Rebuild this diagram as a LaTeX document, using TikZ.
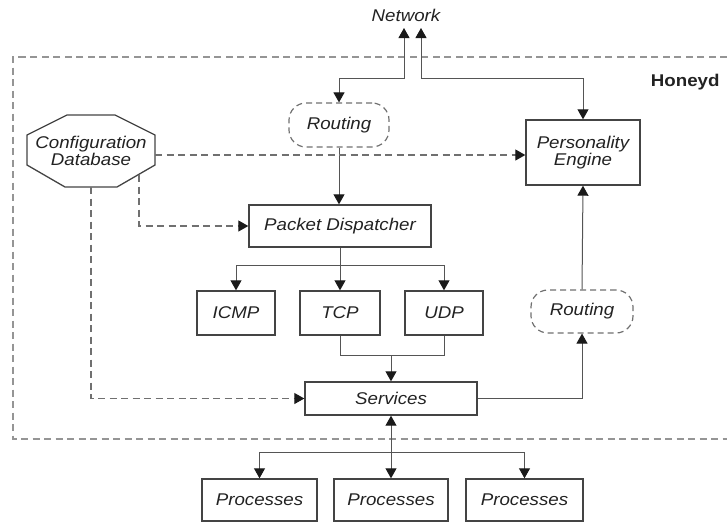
\documentclass[tikz,border=0pt]{standalone}
\usepackage{fontspec}
\setmainfont{Liberation Sans}[FakeStretch=1.1]
\usetikzlibrary{arrows.meta,calc}
\definecolor{boxc}{HTML}{444444}
\definecolor{linec}{HTML}{555555}
\definecolor{dashc}{HTML}{707070}
\definecolor{framec}{HTML}{959595}
\definecolor{txt}{HTML}{222222}
\definecolor{tipc}{HTML}{1A1A1A}
\begin{document}
\begin{tikzpicture}[x=1pt,y=-1pt,
  font=\fontsize{17}{19}\selectfont\itshape,
  text=txt,
  tp/.tip={Triangle[width=11pt,length=10pt,color=tipc]},
  tip/.style={-tp},
  box/.style={draw=boxc, line width=1.4pt, inner sep=0pt, align=center},
  rout/.style={draw=dashc, line width=1.2pt, dash pattern=on 6pt off 4pt, rounded corners=17pt, inner sep=0pt, minimum width=100pt, minimum height=44pt},
  conn/.style={draw=linec, line width=1pt},
  dconn/.style={draw=dashc, line width=1.1pt, dash pattern=on 7pt off 4.5pt},
  frame/.style={draw=framec, line width=1.1pt, dash pattern=on 7pt off 4.5pt}
]
\useasboundingbox (0,0) rectangle (727,523);

% boundary
\draw[frame] (727,57) -- (13,57) -- (13,439) -- (727,439);
\node[font=\fontsize{17}{19}\selectfont\bfseries, anchor=east] (honeyd) at (723,82) {Honeyd};

% nodes
\node (net) at (406,15) {Network};
\coordinate (n1) at (404,28);
\coordinate (n2) at (421,28);

\node[rout] (r1) at (339,125) {Routing};
\node[box, minimum width=114pt, minimum height=65pt] (pe) at (583,152.5) {Personality\\[-2pt]Engine};
\node[inner sep=0pt, minimum width=128pt, minimum height=72pt, align=center] (cdb) at (91,151) {Configuration\\[-2pt]Database};
\draw[boxc, line width=1.3pt]
  ($(cdb)+(-24,-36)$) -- ($(cdb)+(24,-36)$) -- ($(cdb)+(64,-16)$) -- ($(cdb)+(64,14)$)
  -- ($(cdb)+(26,36)$) -- ($(cdb)+(-26,36)$) -- ($(cdb)+(-64,14)$) -- ($(cdb)+(-64,-16)$) -- cycle;
\coordinate (c1) at (155,155);
\coordinate (c2) at (139,175);
\coordinate (c3) at (91,187);

\node[box, minimum width=182pt, minimum height=42pt] (pd) at (340,226) {Packet Dispatcher};
\node[box, minimum width=78pt, minimum height=44pt] (icmp) at (236,313) {ICMP};
\node[box, minimum width=80pt, minimum height=44pt] (tcp) at (340,313) {TCP};
\node[box, minimum width=78pt, minimum height=44pt] (udp) at (444,313) {UDP};
\node[rout, minimum width=102pt, minimum height=43pt] (r2) at (582,311.5) {Routing};
\node[box, minimum width=172pt, minimum height=33pt] (srv) at (391,398.5) {Services};
\node[box, minimum width=115pt, minimum height=42pt] (p1) at (259.5,500) {Processes};
\node[box, minimum width=114pt, minimum height=42pt] (p2) at (391,500) {Processes};
\node[box, minimum width=117pt, minimum height=42pt] (p3) at (524.5,500) {Processes};

% network connections
\draw[conn, tp-tp] (n1) -- (404,78) -- (339,78) -- (r1.north);
\draw[conn, tp-tp] (n2) -- (421,78) -- (pe.north |- 0,78) -- (pe.north);

% routing -> dispatcher
\draw[conn, tip] (r1.south) -- (r1.south |- pd.north);

% config db dashed
\draw[dconn, tip] (c1) -- (c1 -| pe.west);
\draw[dconn, tip] (c2) -- (c2 |- pd.west) -- (pd.west);
\draw[dconn, tip] (c3) -- (c3 |- srv.west) -- (srv.west);

% dispatcher -> protocols
\draw[conn] (pd.south -| tcp.north) -- (340,265);
\draw[conn, tip] (icmp.north |- 0,265) -- (icmp.north);
\draw[conn, tip] (340,265) -- (tcp.north);
\draw[conn, tip] (icmp.north |- 0,265) -- (udp.north |- 0,265) -- (udp.north);

% protocols -> services
\draw[conn] (tcp.south) -- (340,355) -- (444,355) -- (udp.south);
\draw[conn, tip] (srv.north |- 0,355) -- (srv.north);

% services -> routing -> personality
\draw[conn, tip] (srv.east) -- (srv.east -| r2.south) -- (r2.south);
\draw[conn, tip] (r2.north) -- (pe.south);

% services <-> processes
\draw[conn, tp-tp] (srv.south) -- (p2.north);
\draw[conn, tip] (p1.north |- 0,452) -- (p1.north);
\draw[conn, tip] (p1.north |- 0,452) -- (p3.north |- 0,452) -- (p3.north);
\end{tikzpicture}
\end{document}
